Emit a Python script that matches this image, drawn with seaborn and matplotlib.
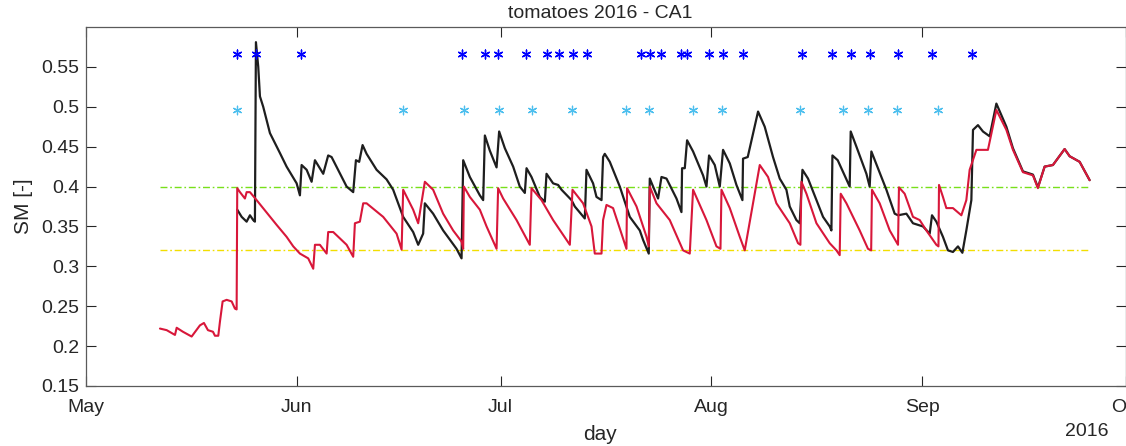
import numpy as np
import pandas as pd
import matplotlib
matplotlib.use("Agg")
import matplotlib.pyplot as plt
import matplotlib.dates as mdates
import seaborn as sns

# ---------------- data (days since 2016-05-01, soil moisture [-]) ----------------
red_day = [10.88, 11.87, 13.09, 13.34, 14.26, 15.54, 16.76, 17.35, 17.94, 18.68, 18.97, 19.46,
           19.71, 20.10, 20.69, 21.43, 21.91, 22.16, 22.25, 22.65, 23.38, 23.63, 24.12, 25.10,
           28.04, 29.51, 30.49, 31.47, 32.69, 33.43, 33.68, 34.41, 35.40, 35.63, 36.37, 38.34,
           39.31, 39.56, 40.29, 40.78, 41.28, 43.72, 45.69, 46.43, 46.66, 48.13, 48.87, 49.85,
           51.07, 52.54, 54.01, 55.25, 55.49, 55.59, 56.47, 57.94, 58.93, 60.40, 60.63, 61.37,
           63.34, 65.29, 65.54, 67.01, 68.72, 71.18, 71.57, 73.13, 74.37, 74.85, 75.84, 76.07,
           76.57, 77.54, 79.01, 79.51, 79.60, 80.99, 82.46, 82.79, 82.94, 83.93, 85.88, 87.84,
           88.82, 89.31, 91.28, 92.75, 93.34, 93.49, 94.71, 96.18, 96.91, 99.12, 100.34, 101.57,
           103.53, 104.75, 105.10, 105.25, 105.99, 107.46, 109.41, 110.40, 110.88, 111.03,
           111.87, 113.82, 115.04, 115.51, 115.63, 116.76, 118.24, 119.46, 119.60, 120.44,
           121.66, 122.65, 123.63, 125.10, 125.41, 125.49, 126.07, 126.57, 127.54, 128.78,
           129.51, 130.00, 130.99, 132.69, 133.93, 135.40, 136.37, 137.84, 139.31, 140.04,
           141.03, 142.25, 143.97, 144.71, 146.18, 147.65]
red_sm = [0.222, 0.220, 0.214, 0.223, 0.218, 0.212, 0.226, 0.229, 0.220, 0.218, 0.213, 0.213,
          0.231, 0.256, 0.258, 0.256, 0.247, 0.246, 0.398, 0.393, 0.385, 0.393, 0.393, 0.383,
          0.352, 0.337, 0.325, 0.316, 0.310, 0.297, 0.327, 0.327, 0.316, 0.343, 0.343, 0.327,
          0.312, 0.354, 0.356, 0.379, 0.379, 0.362, 0.341, 0.321, 0.396, 0.371, 0.354, 0.406,
          0.396, 0.366, 0.345, 0.331, 0.322, 0.400, 0.387, 0.371, 0.350, 0.322, 0.398, 0.385,
          0.358, 0.327, 0.398, 0.383, 0.358, 0.327, 0.396, 0.379, 0.350, 0.316, 0.316, 0.358,
          0.377, 0.373, 0.335, 0.322, 0.398, 0.375, 0.337, 0.325, 0.400, 0.379, 0.358, 0.320,
          0.316, 0.396, 0.358, 0.325, 0.322, 0.396, 0.373, 0.337, 0.320, 0.427, 0.412, 0.379,
          0.354, 0.329, 0.327, 0.406, 0.391, 0.354, 0.329, 0.320, 0.314, 0.391,
          0.379, 0.345, 0.322, 0.320, 0.396, 0.379, 0.345, 0.327, 0.399, 0.391,
          0.362, 0.358, 0.345, 0.327, 0.325, 0.402, 0.387, 0.373, 0.373, 0.364,
          0.383, 0.421, 0.446, 0.446, 0.496, 0.471, 0.446, 0.418, 0.414, 0.398,
          0.425, 0.427, 0.447, 0.438, 0.431, 0.408]

black_day = [22.25, 22.90, 23.63, 24.12, 24.60, 24.85, 25.00, 25.34, 25.59, 26.07, 27.06, 28.53,
             29.51, 30.99, 31.47, 31.72, 32.46, 33.19, 33.68, 34.90, 35.63, 36.13, 38.34, 39.31,
             39.71, 40.19, 40.69, 41.28, 42.75, 44.22, 45.19, 46.66, 48.13, 48.87, 49.60, 49.85,
             51.07, 52.54, 54.51, 55.25, 55.49, 56.47, 57.94, 58.43, 58.68, 59.41, 60.40, 60.78,
             61.62, 62.84, 63.82, 64.56, 64.81, 65.54, 66.76, 67.50, 67.75, 68.72, 69.46, 69.96,
             71.43, 71.91, 73.38, 73.63, 74.60, 75.10, 75.84, 76.07, 76.32, 77.06, 78.53, 80.00,
             81.47, 81.96, 82.79, 82.94, 84.16, 84.66, 85.40, 86.87, 87.60, 87.69, 88.09, 88.43,
             89.31, 90.78, 91.28, 91.66, 92.50, 93.24, 93.72, 94.71, 95.69, 96.57, 96.66, 97.35,
             98.87, 99.85, 101.07, 102.06, 103.04, 103.53, 104.51, 105.00, 105.40, 106.22,
             107.46, 108.43, 109.41, 109.66, 109.81, 110.59, 112.35, 112.50, 113.34, 114.81,
             115.29, 115.54, 117.75, 118.97, 119.46, 120.69, 121.66, 123.13, 124.12, 124.46,
             125.10, 126.07, 126.81, 127.54, 128.28, 128.93, 129.51, 130.25, 130.49, 131.22,
             131.96, 132.94, 133.93, 135.40, 136.37, 137.84, 139.31, 140.04, 141.03, 142.25,
             143.97, 144.71, 146.18, 147.65]
black_sm = [0.371, 0.362, 0.356, 0.364, 0.358, 0.356, 0.581, 0.550, 0.513, 0.500, 0.467, 0.442,
            0.425, 0.404, 0.389, 0.427, 0.421, 0.406, 0.433, 0.416, 0.439, 0.437, 0.400, 0.393,
            0.433, 0.431, 0.452, 0.441, 0.421, 0.409, 0.396, 0.362, 0.343, 0.327, 0.341, 0.379,
            0.366, 0.345, 0.322, 0.310, 0.433, 0.412, 0.389, 0.383, 0.464, 0.445, 0.424, 0.469,
            0.448, 0.425, 0.400, 0.392, 0.423, 0.412, 0.387, 0.381, 0.416, 0.404, 0.402, 0.396,
            0.383, 0.375, 0.360, 0.421, 0.404, 0.387, 0.383, 0.437, 0.441, 0.431, 0.400, 0.362,
            0.345, 0.333, 0.316, 0.410, 0.385, 0.412, 0.410, 0.385, 0.368, 0.423, 0.423, 0.458,
            0.444, 0.414, 0.400, 0.439, 0.427, 0.400, 0.446, 0.429, 0.402, 0.383, 0.435, 0.437,
            0.494, 0.475, 0.437, 0.410, 0.396, 0.375, 0.358, 0.354, 0.421, 0.410,
            0.383, 0.362, 0.350, 0.345, 0.439, 0.433, 0.400, 0.469, 0.450, 0.416,
            0.400, 0.444, 0.396, 0.366, 0.364, 0.366, 0.354, 0.350, 0.341, 0.364,
            0.356, 0.337, 0.320, 0.318, 0.325, 0.317, 0.345, 0.383, 0.471, 0.477,
            0.469, 0.463, 0.504, 0.475, 0.448, 0.419, 0.415, 0.399, 0.425, 0.427,
            0.447, 0.438, 0.431, 0.408]

irr_dark_day = [22.2, 25.0, 31.6, 55.3, 58.7, 60.6, 64.7, 67.8, 69.6, 71.6, 73.7, 81.6, 82.9,
                84.6, 87.6, 88.4, 91.6, 93.7, 96.6, 105.4, 109.7, 112.5, 115.4, 119.4, 124.4, 130.3]
irr_dark_level = 0.566
irr_light_day = [22.2, 46.6, 55.6, 60.7, 65.6, 71.5, 79.4, 82.8, 89.3, 93.5, 105.0, 111.3,
                 115.1, 119.3, 125.4]
irr_light_level = 0.496

thr_day = [10.88, 147.65]
thr_upper = 0.40
thr_lower = 0.32

y_ticks = [0.15, 0.2, 0.25, 0.3, 0.35, 0.4, 0.45, 0.5, 0.55]
y_tick_labels = ["0.15", "0.2", "0.25", "0.3", "0.35", "0.4", "0.45", "0.5", "0.55"]

# ---------------- styling ----------------
sns.set_theme(style="white")
plt.rcParams["font.family"] = ["Liberation Sans", "DejaVu Sans"]

base = pd.Timestamp("2016-05-01")
def to_dt(days):
    return base + pd.to_timedelta(np.asarray(days, dtype=float), unit="D")

fig = plt.figure(figsize=(11.26, 4.46), dpi=100)
ax = fig.add_axes([86 / 1126, 60 / 446, 1040 / 1126, 359 / 446])

RED = "#D8173A"
BLACK = "#1E1E1E"
GREEN = "#78E01A"
YELLOW = "#F2DE00"
DBLUE = "#0000FF"
LBLUE = "#4DBFEE"

df_thr = pd.DataFrame({"t": to_dt(thr_day)})
sns.lineplot(x=df_thr["t"], y=[thr_upper] * 2, ax=ax, color=GREEN, lw=1.0,
             linestyle=(0, (5, 2, 1.2, 2)), estimator=None, sort=False)
sns.lineplot(x=df_thr["t"], y=[thr_lower] * 2, ax=ax, color=YELLOW, lw=1.0,
             linestyle=(0, (5, 2, 1.2, 2)), estimator=None, sort=False)

sns.lineplot(x=to_dt(black_day), y=black_sm, ax=ax, color=BLACK, lw=1.6,
             estimator=None, sort=False)
sns.lineplot(x=to_dt(red_day), y=red_sm, ax=ax, color=RED, lw=1.5,
             estimator=None, sort=False)

ax.scatter(to_dt(irr_dark_day), [irr_dark_level] * len(irr_dark_day), marker=(6, 2, 0),
           s=40, color=DBLUE, linewidths=1.0, zorder=5)
ax.scatter(to_dt(irr_light_day), [irr_light_level] * len(irr_light_day), marker=(6, 2, 0),
           s=38, color=LBLUE, linewidths=0.9, zorder=5)

ax.set_xlim(pd.Timestamp("2016-05-01"), pd.Timestamp("2016-10-01"))
ax.set_ylim(0.15, 0.60)
ax.set_yticks(y_ticks)
ax.set_yticklabels(y_tick_labels)
ax.xaxis.set_major_locator(mdates.MonthLocator())
ax.xaxis.set_major_formatter(mdates.DateFormatter("%b"))

ax.set_xlabel("")
ax.set_ylabel("SM [-]", fontsize=15, color="#262626")
ax.yaxis.set_label_coords(-0.051, 0.5)

ax.tick_params(axis="both", direction="in", length=7, width=0.8, colors="#262626",
               labelsize=14, top=True, right=True, bottom=True, left=True)
ax.tick_params(axis="x", pad=9)
ax.tick_params(axis="y", pad=5)
for s in ax.spines.values():
    s.set_visible(True)
    s.set_color("#5a5a5a")
    s.set_linewidth(0.9)

fig.text(600 / 1126, 1 - 14 / 446, "tomatoes 2016 - CA1", ha="center", va="center",
         fontsize=14, color="#262626")
fig.text(600 / 1126, 1 - 435 / 446, "day", ha="center", va="center", fontsize=15,
         color="#262626")
fig.text(1087 / 1126, 1 - 432 / 446, "2016", ha="center", va="center", fontsize=14,
         color="#262626")

fig.savefig("out.png", dpi=100)
